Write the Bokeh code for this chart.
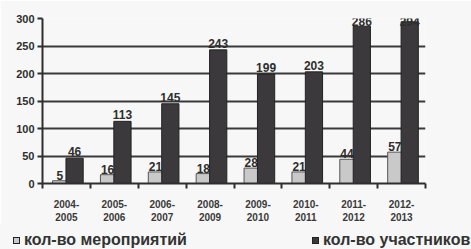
from bokeh.plotting import figure
from bokeh.models import ColumnDataSource, FixedTicker, Range1d, Grid, Div
from bokeh.core.properties import value
from bokeh.layouts import column
from bokeh.embed import file_html
from bokeh.resources import INLINE

periods = ["2004-2005", "2005-2006", "2006-2007", "2008-2009",
           "2009-2010", "2010-2011", "2011-2012", "2012-2013"]
events = [5, 16, 21, 18, 28, 21, 44, 57]
participants = [46, 113, 145, 243, 199, 203, 286, 294]
y_ticks = [300, 250, 200, 150, 100, 50, 0]
grid_ticks = [50, 100, 150, 200, 250]
legend_labels = ["кол-во мероприятий", "кол-во участников"]

FONT = "Liberation Sans"
INK = "#2e2e2e"
LIGHT = "#c9c9c9"
DARK = "#3b393b"
BG = "#f7f7f7"
Y_MAX = 300
LABEL_CAP = 283  # labels of the tallest bars sit inside the plot, as in the original

n = len(periods)
idx = list(range(n))
src = ColumnDataSource(dict(
    xe=[i + 0.36 for i in idx],
    xp=[i + 0.67 for i in idx],
    ev=events,
    pa=participants,
    pay=[min(v, LABEL_CAP) for v in participants],
    evl=[str(v) for v in events],
    pal=[str(v) for v in participants],
))

p = figure(width=471, height=225, output_backend="svg", toolbar_location=None,
           x_range=Range1d(0, n), y_range=Range1d(0, Y_MAX),
           min_border_left=42, min_border_right=46, min_border_top=18,
           min_border_bottom=33, background_fill_color=BG,
           border_fill_color=BG, outline_line_color=None)
p.outline_line_alpha = 0
p.outline_line_width = 0
p.title.visible = False

p.xgrid.visible = False
p.ygrid.visible = False
p.add_layout(Grid(dimension=1, ticker=FixedTicker(ticks=grid_ticks),
                  grid_line_color="#3a3a3a", grid_line_width=2))

p.vbar(x="xe", top="ev", width=0.30, source=src, fill_color=LIGHT,
       line_color="#555555", line_width=1)
p.text(x="xe", y="ev", text="evl", source=src, text_align="center",
       text_baseline="bottom", y_offset=-1, text_font_size="12px",
       text_font_style="bold", text_color=INK, text_font=value(FONT))
p.vbar(x="xp", top="pa", width=0.36, source=src, fill_color=DARK,
       line_color="#222222", line_width=1)
p.text(x="xp", y="pay", text="pal", source=src, text_align="center",
       text_baseline="bottom", y_offset=-2, text_font_size="12px",
       text_font_style="bold", text_color=INK, text_font=value(FONT))

# x axis: labels at centres, ticks at boundaries
xa = p.xaxis[0]
xa.ticker = FixedTicker(ticks=[i + 0.5 for i in idx], minor_ticks=list(range(n + 1)))
xa.major_label_overrides = {i + 0.5: periods[i].replace("-", "-\n") for i in idx}
xa.major_tick_out = 0
xa.major_tick_in = 0
xa.minor_tick_out = 5
xa.minor_tick_in = 0
xa.minor_tick_line_color = INK
xa.minor_tick_line_width = 2
xa.axis_line_color = INK
xa.axis_line_width = 2
xa.major_label_text_font = FONT
xa.major_label_text_font_size = "10px"
xa.major_label_text_font_style = "bold"
xa.major_label_text_color = "#3a3a3a"
xa.major_label_standoff = 10

ya = p.yaxis[0]
ya.ticker = FixedTicker(ticks=y_ticks)
ya.major_tick_out = 5
ya.major_tick_in = 0
ya.minor_tick_out = 0
ya.minor_tick_in = 0
ya.major_tick_line_color = INK
ya.major_tick_line_width = 2
ya.axis_line_color = INK
ya.axis_line_width = 2
ya.major_label_text_font = FONT
ya.major_label_text_font_size = "11px"
ya.major_label_text_font_style = "bold"
ya.major_label_text_color = INK
ya.major_label_standoff = 3

# legend strip below the chart
sq = "position:absolute;top:12px;width:7px;height:7px;border:1px solid #222;"
tx = ("position:absolute;top:6px;line-height:18px;font-family:'Liberation Sans';"
      "font-size:16px;font-weight:bold;color:#333;white-space:nowrap;")
html = (
    f'<div style="position:relative;width:471px;height:24px;background:{BG};">'
    f'<span style="{sq}left:13px;background:{LIGHT};"></span>'
    f'<span style="{tx}left:24px;">{legend_labels[0]}</span>'
    f'<span style="{sq}left:312px;background:{DARK};"></span>'
    f'<span style="{tx}left:323px;">{legend_labels[1]}</span>'
    '</div>'
)
leg = Div(text=html, width=471, height=24, margin=0)

open("out.html", "w").write(file_html(column(p, leg, spacing=0), INLINE))
